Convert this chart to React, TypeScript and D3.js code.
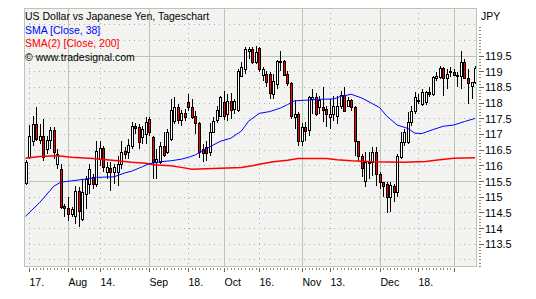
import React from 'react';
import * as d3 from 'd3';

// ---- data (USD/JPY daily, 14 Jul 2006 .. 9 Jan 2007) ----
const opens = [115.45,116.28,116.79,117.33,116.82,116.95,116.53,116.82,117.14,116.05,115.89,114.71,114.65,114.46,114.39,115.19,114.30,115.09,115.41,115.64,115.41,116.21,116.56,115.80,115.93,115.80,115.80,116.05,116.47,116.44,116.63,117.27,117.23,116.91,117.01,117.49,116.91,116.12,116.12,116.63,116.44,116.85,117.43,117.87,117.46,117.68,118.03,117.87,117.58,117.36,116.53,116.60,116.44,117.07,117.46,117.58,118.03,117.65,118.06,117.81,117.78,118.86,119.09,119.66,119.72,119.31,119.75,118.89,118.93,118.93,118.29,118.61,119.31,119.34,118.93,118.64,117.55,117.65,116.79,117.23,117.14,118.13,118.19,117.87,117.87,117.81,117.55,117.65,117.58,117.90,118.26,117.90,118.10,117.87,116.79,116.31,115.51,116.12,116.12,116.44,115.73,115.48,115.41,115.00,115.35,115.16,116.28,116.75,116.75,117.39,117.74,118.10,117.97,118.03,118.35,118.29,118.80,118.83,119.12,118.80,118.99,119.00,118.86,118.86,119.31,118.80,118.54,118.67];
const highs = [116.20,117.30,117.58,117.87,117.33,117.49,116.95,117.23,117.23,116.53,116.05,114.78,115.00,114.68,115.35,115.32,115.57,115.67,116.05,115.73,116.79,116.79,116.63,116.12,116.12,116.05,116.31,116.79,116.60,116.85,117.39,117.36,117.33,117.27,117.55,117.55,116.95,116.53,116.75,117.07,117.17,118.13,118.19,117.97,117.78,117.81,118.29,118.13,117.74,117.39,116.69,116.79,117.36,117.55,117.90,118.22,118.38,118.29,118.32,118.13,119.09,119.31,119.79,119.79,119.79,119.82,119.79,119.15,119.02,118.99,118.93,119.37,119.66,119.37,119.02,118.67,118.10,117.71,117.36,117.39,118.22,118.45,118.32,118.22,118.50,117.90,118.13,118.22,118.22,118.38,118.51,118.19,118.13,117.90,116.79,116.37,116.44,116.44,116.60,116.60,115.80,115.48,115.48,115.48,115.41,116.37,117.07,117.17,117.71,117.90,118.35,118.29,118.45,118.38,118.51,118.86,118.99,119.18,119.15,119.09,119.15,119.09,118.99,119.66,119.40,119.09,118.67,119.18];
const lows = [115.38,116.21,116.63,116.79,116.69,116.15,116.37,116.53,116.21,115.89,114.62,114.36,114.23,114.36,114.14,114.04,114.23,114.62,115.09,115.25,115.32,115.99,115.80,115.57,115.19,115.41,115.35,115.89,116.21,116.21,116.53,117.01,116.53,116.69,116.69,116.95,115.57,115.57,116.05,116.28,116.37,116.79,117.33,117.33,117.27,117.43,117.74,117.49,117.01,116.25,116.12,116.15,116.31,117.04,117.36,117.55,117.46,117.43,117.49,117.65,117.71,118.83,118.93,119.40,119.24,119.24,118.99,118.70,118.51,118.13,118.13,118.45,119.02,118.86,118.54,117.49,117.17,116.63,116.63,116.79,116.95,117.65,117.58,117.65,117.40,117.23,117.17,117.43,117.33,117.81,117.71,117.87,117.74,116.31,116.15,115.64,115.32,115.57,115.67,115.35,115.25,115.00,114.49,114.52,114.84,115.00,116.21,116.63,116.69,117.27,117.65,117.97,117.90,117.93,118.19,118.22,118.70,118.77,118.22,118.45,118.83,118.86,118.51,118.45,118.77,117.97,118.13,118.61];
const closes = [116.12,116.95,117.33,116.85,116.95,116.28,116.82,117.14,116.44,116.37,114.68,114.65,114.46,114.62,115.19,114.55,115.16,115.57,115.89,115.41,116.47,116.56,115.96,115.96,115.80,115.96,116.05,116.44,116.37,116.66,117.27,117.20,116.75,117.17,117.39,117.07,116.12,116.21,116.63,116.34,117.07,117.78,117.87,117.46,117.68,117.55,117.87,117.55,117.36,116.44,116.40,116.40,117.07,117.43,117.78,118.19,117.58,118.06,117.78,118.06,119.02,119.15,119.72,119.72,119.31,119.63,119.09,119.09,118.67,118.32,118.70,119.34,119.34,118.89,118.64,117.58,117.65,116.79,117.23,117.11,118.19,118.19,117.65,118.10,117.78,117.65,117.65,117.90,117.90,118.26,117.74,118.10,117.87,116.79,116.31,115.93,116.12,116.09,116.44,115.73,115.48,115.35,115.00,115.38,115.16,116.31,116.75,117.07,117.39,117.74,118.19,118.06,118.35,118.35,118.29,118.83,118.86,119.12,118.80,118.93,119.02,118.90,118.89,119.31,118.80,118.64,118.67,119.12];

// SMA [Close, 38] at bar indices
const sma38Idx = [0,4,8,10,13,17,20,25,28,30,33,35,38,41,44,46,48,50,52,55,58,61,63,66,69,72,74,76,79,83,87,89,92,95,98,100,102,105,108,110,112,115,118,121,124,127];
const sma38Val = [114.39,114.83,115.35,115.48,115.52,115.58,115.63,115.65,115.77,115.83,115.97,116.07,116.13,116.16,116.21,116.27,116.35,116.48,116.60,116.78,116.88,117.11,117.42,117.67,117.73,117.84,117.95,118.07,118.09,118.12,118.13,118.21,118.28,118.16,117.98,117.86,117.59,117.30,117.19,117.04,117.03,117.15,117.26,117.30,117.41,117.51];
// SMA(2) [Close, 200]
const sma200Idx = [0,4,9,13,19,26,30,34,36,41,44,47,55,61,64,66,70,74,77,85,88,92,98,107,113,117,121,127];
const sma200Val = [116.24,116.30,116.32,116.27,116.23,116.16,116.11,116.08,116.03,116.00,115.95,115.89,115.92,115.95,116.00,116.05,116.13,116.18,116.23,116.23,116.19,116.16,116.13,116.11,116.14,116.19,116.24,116.26];

// x axis
const monthIdx = [12,35,56,78,100,121];
const midIdx = [1,21,46,66,86,111];
const tickIdx = [1,12,21,35,46,56,66,78,86,100,111];
const tickLabels = ['17.','Aug','14.','Sep','18.','Oct','16.','Nov','13.','Dec','18.'];
// y axis
const yLabels = [113.5,114,114.5,115,115.5,116,116.5,117,117.5,118,118.5,119,119.5];

const W = 536, H = 299;
const PL = 24, PR = 477, PT = 8, PB = 267;
const FONT = '"Liberation Sans", Arial, sans-serif';
const GRID = '#b4c8b4';
const DOT = '#b0b0b0';
const RED = '#ff0000';

export default function App() {
  const n = closes.length;
  const x = d3.scaleLinear().domain([0, n - 1]).range([25.5, 475.1]);
  const y = d3.scaleLinear().domain([115.5, 119.5]).range([181.5, 56]);
  const p = (v: number) => Math.floor(v) + 0.5;

  const hGrid = d3.range(113, 120.51, 0.5);
  const minorY = d3.range(112.8, 120.45, 0.1);
  const dayTicks = d3.range(1, 122);

  const line38 = d3.line<number>().x((d, i) => x(sma38Idx[i])).y(d => y(d));
  const line200 = d3.line<number>().x((d, i) => x(sma200Idx[i])).y(d => y(d));

  return (
    <svg width={W} height={H} style={{ position: 'absolute', left: 0, top: 0, display: 'block', background: '#fff' }}>
      <rect x={0} y={0} width={W} height={H} fill="#fff" />
      <rect x={PL} y={PT} width={PR - PL} height={PB - PT} fill="#f3f4f1" />
      {/* horizontal grid */}
      {hGrid.map(v => {
        const solid = Math.abs(((v - 115.5) % 4 + 4) % 4) < 1e-6;
        const yy = p(y(v));
        if (yy <= PT + 1 || yy >= PB) return null;
        return <line key={'h' + v} x1={PL} x2={PR} y1={yy} y2={yy} stroke={solid ? GRID : DOT}
          strokeWidth={1} strokeDasharray={solid ? undefined : '1 4'} shapeRendering="crispEdges" />;
      })}
      {/* vertical grid */}
      {midIdx.map(i => (
        <line key={'m' + i} x1={Math.round(x(i)) + 0.5} x2={Math.round(x(i)) + 0.5} y1={PT} y2={PB}
          stroke={DOT} strokeDasharray="1 4" shapeRendering="crispEdges" />
      ))}
      {monthIdx.map(i => (
        <line key={'M' + i} x1={Math.round(x(i)) + 0.5} x2={Math.round(x(i)) + 0.5} y1={PT} y2={PB}
          stroke={GRID} shapeRendering="crispEdges" />
      ))}
      {/* candles */}
      {closes.map((c, i) => {
        const o = opens[i];
        const cx = Math.round(x(i));
        const top = Math.round(y(Math.max(o, c)));
        const bot = Math.round(y(Math.min(o, c)));
        const up = c >= o;
        return (
          <g key={'c' + i} shapeRendering="crispEdges">
            <line x1={cx + 0.5} x2={cx + 0.5} y1={Math.round(y(highs[i]))} y2={Math.round(y(lows[i]))} stroke="#000" />
            <rect x={cx - 0.5} y={top + 0.5} width={2} height={Math.max(bot - top, 1)}
              fill={up ? '#fff' : RED} stroke="#000" strokeWidth={1} />
          </g>
        );
      })}
      {/* indicators */}
      <path d={line200(sma200Val) || ''} fill="none" stroke={RED} strokeWidth={1.5} />
      <path d={line38(sma38Val) || ''} fill="none" stroke="#0000ff" strokeWidth={1} />
      {/* frame */}
      <rect x={PL + 0.5} y={PT + 0.5} width={PR - PL - 1} height={PB - PT - 1} fill="none" stroke={GRID} shapeRendering="crispEdges" />
      {/* right axis */}
      {minorY.map(v => (
        <line key={'ry' + v.toFixed(1)} x1={479} x2={481} y1={p(y(v))} y2={p(y(v))} stroke="#888" shapeRendering="crispEdges" />
      ))}
      {yLabels.map(v => (
        <g key={'yl' + v}>
          <line x1={479} x2={484} y1={p(y(v))} y2={p(y(v))} stroke="#666" shapeRendering="crispEdges" />
          <text x={485} y={y(v) + 4} fontFamily={FONT} fontSize={11} fill="#000">{String(v)}</text>
        </g>
      ))}
      <text x={481} y={20} fontFamily={FONT} fontSize={10.5} fill="#000">JPY</text>
      {/* bottom axis */}
      {dayTicks.map(i => (
        <line key={'dt' + i} x1={Math.round(x(i)) + 0.5} x2={Math.round(x(i)) + 0.5} y1={268} y2={270} stroke="#888" shapeRendering="crispEdges" />
      ))}
      {[...monthIdx, ...midIdx].map(i => (
        <line key={'mt' + i} x1={Math.round(x(i)) + 0.5} x2={Math.round(x(i)) + 0.5} y1={268} y2={272} stroke="#666" shapeRendering="crispEdges" />
      ))}
      {tickIdx.map((i, k) => (
        <text key={'xl' + i} x={Math.round(x(i)) + 0.5} y={286} fontFamily={FONT} fontSize={10.5} fill="#000">{tickLabels[k]}</text>
      ))}
      {/* legend */}
      <text x={25} y={20} fontFamily={FONT} fontSize={10.5} fill="#000">US Dollar vs Japanese Yen, Tageschart</text>
      <text x={25} y={33.5} fontFamily={FONT} fontSize={10.5} fill="#0000ff">SMA [Close, 38]</text>
      <text x={25} y={47} fontFamily={FONT} fontSize={10.5} fill={RED}>SMA(2) [Close, 200]</text>
      <text x={25} y={60.5} fontFamily={FONT} fontSize={10.5} fill="#000">© www.tradesignal.com</text>
    </svg>
  );
}
